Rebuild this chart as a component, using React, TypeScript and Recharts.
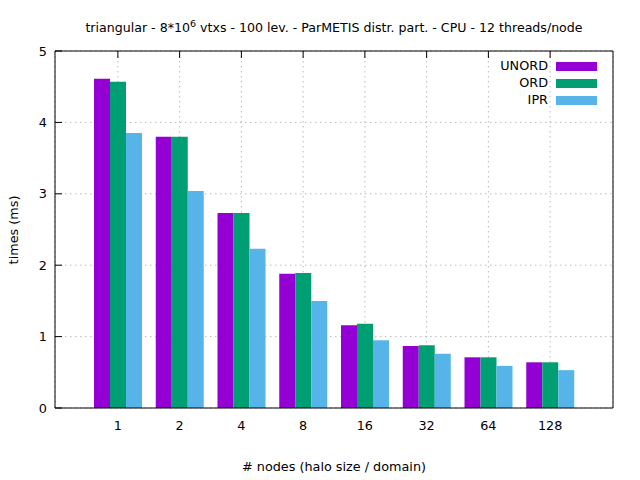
import { BarChart, Bar, XAxis, YAxis, CartesianGrid, Legend } from 'recharts';

// nodes (halo size / domain) and times in ms
const NODES = ['1', '2', '4', '8', '16', '32', '64', '128'];
const UNORD = [4.61, 3.8, 2.73, 1.88, 1.16, 0.87, 0.71, 0.64];
const ORD = [4.57, 3.8, 2.73, 1.89, 1.18, 0.88, 0.71, 0.64];
const IPR = [3.85, 3.04, 2.23, 1.5, 0.95, 0.76, 0.59, 0.53];
const Y_TICKS = [0, 1, 2, 3, 4, 5];

const SERIES = [
  { key: 'UNORD', color: '#9400d3' },
  { key: 'ORD', color: '#009e73' },
  { key: 'IPR', color: '#56b4e9' },
];

const data = NODES.map((n, i) => ({ n, UNORD: UNORD[i], ORD: ORD[i], IPR: IPR[i] }));

const FONT = '"DejaVu Sans", sans-serif';
const FS = 12.8;

// gnuplot-style ticks: labels outside, tick marks pointing inward
const LeftTick = (p: any) => (
  <g>
    <text x={p.x} y={p.y} textAnchor="end" dominantBaseline="central" fontSize={FS} fontFamily={FONT} fill="#000">
      {p.payload.value}
    </text>
    <line x1={p.x + 8} x2={p.x + 15} y1={p.y} y2={p.y} stroke="#000" />
  </g>
);
const RightTick = (p: any) => <line x1={p.x - 7} x2={p.x} y1={p.y} y2={p.y} stroke="#000" />;
const BottomTick = (p: any) => (
  <text x={p.x} y={p.y} textAnchor="middle" dominantBaseline="central" fontSize={FS} fontFamily={FONT} fill="#000">
    {p.payload.value}
  </text>
);
const TopTick = (p: any) => <line x1={p.x} x2={p.x} y1={p.y} y2={p.y + 7} stroke="#000" />;

const LegendBox = () => (
  <div style={{ fontFamily: FONT, fontSize: FS }}>
    {SERIES.map(s => (
      <div key={s.key} style={{ display: 'flex', alignItems: 'center', height: 17, justifyContent: 'flex-end' }}>
        <span style={{ marginRight: 8, lineHeight: 1 }}>{s.key}</span>
        <span style={{ width: 41, height: 9, background: s.color }} />
      </div>
    ))}
  </div>
);

export default function App() {
  return (
    <div style={{ position: 'absolute', left: 0, top: 0, width: 640, height: 480, background: '#fff', fontFamily: FONT }}>
      <div style={{ position: 'absolute', left: 334, top: 27, transform: 'translate(-50%, -50%)', fontSize: 12.6, lineHeight: 1, whiteSpace: 'nowrap' }}>
        triangular - 8*10<sup style={{ fontSize: 9.5, verticalAlign: 5 }}>6</sup> vtxs - 100 lev. - ParMETIS distr. part. - CPU - 12 threads/node
      </div>
      <div style={{ position: 'absolute', left: 334, top: 467, transform: 'translate(-50%, -50%)', fontSize: FS, lineHeight: 1, whiteSpace: 'nowrap' }}>
        # nodes (halo size / domain)
      </div>
      <div style={{ position: 'absolute', left: 14, top: 230, transform: 'translate(-50%, -50%) rotate(-90deg)', fontSize: FS, lineHeight: 1, whiteSpace: 'nowrap' }}>
        times (ms)
      </div>
      <BarChart width={640} height={480} data={data} barGap={0} barSize={16} margin={{ top: 0, right: 0, bottom: 0, left: 0 }}>
        <CartesianGrid stroke="#bbbbbb" strokeDasharray="1.5 3.5" />
        <XAxis dataKey="n" height={72} padding={{ left: 32, right: 32 }} axisLine={{ stroke: '#000' }}
          tickLine={false} tickSize={17} tickMargin={0} tick={<BottomTick />} interval={0} />
        <XAxis xAxisId="top" dataKey="n" orientation="top" height={51} padding={{ left: 32, right: 32 }}
          axisLine={{ stroke: '#000' }} tickLine={false} tickSize={0} tickMargin={0} tick={<TopTick />} interval={0} />
        <YAxis width={55} domain={[0, 5]} ticks={Y_TICKS} axisLine={{ stroke: '#000' }} tickLine={false}
          tickSize={8} tickMargin={0} tick={<LeftTick />} interval={0} />
        <YAxis yAxisId="r" orientation="right" width={27} domain={[0, 5]} ticks={Y_TICKS} axisLine={{ stroke: '#000' }}
          tickLine={false} tickSize={0} tickMargin={0} tick={<RightTick />} interval={0} />
        <Legend layout="vertical" align="center" verticalAlign="middle" content={<LegendBox />}
          wrapperStyle={{ position: 'absolute', left: 440, top: 58, width: 157 }} />
        {SERIES.map(s => (
          <Bar key={s.key} dataKey={s.key} fill={s.color} isAnimationActive={false} />
        ))}
      </BarChart>
    </div>
  );
}
